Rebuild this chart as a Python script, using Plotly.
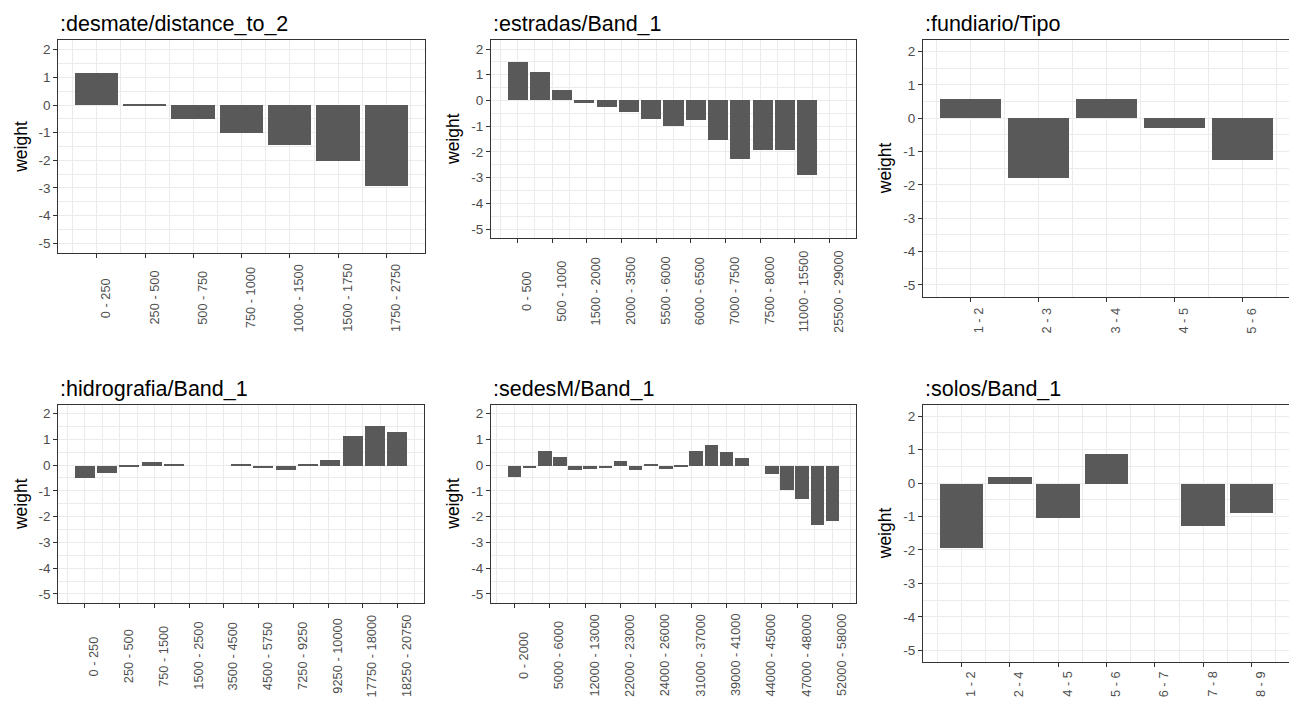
import numpy as np
import plotly.graph_objects as go

# ---------------- data ----------------
desmate_title = ":desmate/distance_to_2"
desmate_labels = ["0 - 250", "250 - 500", "500 - 750", "750 - 1000", "1000 - 1500", "1500 - 1750", "1750 - 2750"]
desmate_values = [1.16, 0.03, -0.51, -1.0, -1.46, -2.01, -2.92]

estradas_title = ":estradas/Band_1"
estradas_labels = ["0 - 500", "500 - 1000", "1500 - 2000", "2000 - 3500", "5500 - 6000", "6000 - 6500",
                   "7000 - 7500", "7500 - 8000", "11000 - 15500", "25500 - 29000"]
estradas_values = [1.48, 1.10, 0.39, -0.09, -0.27, -0.44, -0.73, -1.01, -0.78, -1.53, -2.26, -1.94, -1.94, -2.91, None]

fundiario_title = ":fundiario/Tipo"
fundiario_labels = ["1 - 2", "2 - 3", "3 - 4", "4 - 5", "5 - 6"]
fundiario_values = [0.58, -1.80, 0.58, -0.30, -1.25]

hidrografia_title = ":hidrografia/Band_1"
hidrografia_labels = ["0 - 250", "250 - 500", "750 - 1500", "1500 - 2500", "3500 - 4500", "4500 - 5750",
                      "7250 - 9250", "9250 - 10000", "17750 - 18000", "18250 - 20750"]
hidrografia_values = [-0.49, -0.27, -0.06, 0.13, 0.03, None, None, 0.07, -0.09, -0.17, 0.03, 0.21, 1.13, 1.55, 1.32]

sedesM_title = ":sedesM/Band_1"
sedesM_labels = ["0 - 2000", "5000 - 6000", "12000 - 13000", "22000 - 23000", "24000 - 26000", "31000 - 37000",
                 "39000 - 41000", "44000 - 45000", "47000 - 48000", "52000 - 58000"]
sedesM_values = [-0.44, -0.09, 0.56, 0.35, -0.17, -0.12, -0.09, 0.17, -0.19, 0.06, -0.14, -0.04,
                 0.56, 0.78, 0.52, 0.31, None, -0.34, -0.95, -1.31, -2.29, -2.14]

solos_title = ":solos/Band_1"
solos_labels = ["1 - 2", "2 - 4", "4 - 5", "5 - 6", "6 - 7", "7 - 8", "8 - 9"]
solos_values = [-1.93, 0.21, -1.04, 0.89, None, -1.28, -0.87]

y_title = "weight"
y_ticks = [-5, -4, -3, -2, -1, 0, 1, 2]

# ---------------- layout (pixels) ----------------
W, H = 1289, 701
# panel boxes: left, right, top, bottom, x-label center offset below bottom
boxes = [
    (58.3, 425, 40, 253, 45),
    (491, 856, 40, 238, 53),
    (923, 1290, 40, 296.5, 24),
    (58.3, 424.3, 404.5, 603, 53),
    (491, 856, 404.5, 603, 52),
    (923, 1290, 404.5, 662, 22),
]
panels = [
    (desmate_title, desmate_labels, desmate_values),
    (estradas_title, estradas_labels, estradas_values),
    (fundiario_title, fundiario_labels, fundiario_values),
    (hidrografia_title, hidrografia_labels, hidrografia_values),
    (sedesM_title, sedesM_labels, sedesM_values),
    (solos_title, solos_labels, solos_values),
]

FONT = "Liberation Sans, Arial, sans-serif"
BAR = "#595959"
GRID = "#EBEBEB"
FRAME = "#333333"
TICKTXT = "#4D4D4D"

fig = go.Figure()
annotations = []
layout = dict(
    width=W, height=H, margin=dict(l=0, r=0, t=0, b=0),
    paper_bgcolor="white", plot_bgcolor="white", showlegend=False,
    font=dict(family=FONT, color=TICKTXT),
    bargap=0,
)

for i, ((title, labels, values), (l, r, t, b, loff)) in enumerate(zip(panels, boxes), start=1):
    n = len(values)
    xs = list(range(1, n + 1))
    xa = "x" if i == 1 else f"x{i}"
    ya = "y" if i == 1 else f"y{i}"
    fig.add_trace(go.Bar(x=xs, y=values, width=0.9,
                         marker=dict(color=BAR, line=dict(width=0)),
                         xaxis=xa, yaxis=ya, hoverinfo="x+y"))
    tickpos = np.linspace(1, n, len(labels))
    step = tickpos[1] - tickpos[0]
    minor = list(np.concatenate([[tickpos[0] - step / 2], (tickpos[:-1] + tickpos[1:]) / 2, [tickpos[-1] + step / 2]]))
    lo = 0.55 - 0.05 * (n - 0.1)
    hi = n + 0.45 + 0.05 * (n - 0.1)
    r_eff = min(r, W)
    hi_eff = lo + (hi - lo) * (r_eff - l) / (r - l)
    xkey = "xaxis" if i == 1 else f"xaxis{i}"
    ykey = "yaxis" if i == 1 else f"yaxis{i}"
    layout[xkey] = dict(
        domain=[l / W, r_eff / W], anchor=ya, range=[lo, hi_eff],
        tickmode="array", tickvals=list(tickpos), showticklabels=False,
        ticks="outside", ticklen=4, tickwidth=1, tickcolor=FRAME,
        showgrid=True, gridcolor=GRID, gridwidth=1.4, zeroline=False,
        showline=True, linecolor=FRAME, linewidth=1, mirror=True,
        minor=dict(tickmode="array", tickvals=minor, showgrid=True, gridcolor=GRID, gridwidth=0.8, ticks=""),
    )
    layout[ykey] = dict(
        domain=[1 - b / H, 1 - t / H], anchor=xa, range=[-5.35, 2.35],
        tickmode="array", tickvals=y_ticks, ticktext=[str(v) for v in y_ticks],
        tickfont=dict(size=13.5, color=TICKTXT, family=FONT),
        ticks="outside", ticklen=4, tickwidth=1, tickcolor=FRAME,
        showgrid=True, gridcolor=GRID, gridwidth=1.4, zeroline=False,
        showline=True, linecolor=FRAME, linewidth=1, mirror=True,
        minor=dict(tickmode="array", tickvals=[v + 0.5 for v in y_ticks[:-1]] + [-5.5, 2.5],
                   showgrid=True, gridcolor=GRID, gridwidth=0.8, ticks=""),
    )
    for pos, lab in zip(tickpos, labels):
        annotations.append(dict(
            xref=xa, yref="paper", x=pos, y=1 - (b + loff) / H, text=lab, showarrow=False,
            textangle=-90, xanchor="left", yanchor="middle",
            font=dict(size=12.8, color=TICKTXT, family=FONT), borderpad=0,
        ))
    annotations.append(dict(
        xref="paper", yref="paper", x=(l + 1) / W, y=1 - (t - 3) / H, text=title, showarrow=False,
        xanchor="left", yanchor="bottom", font=dict(size=21.5, color="black", family=FONT), borderpad=0,
    ))
    annotations.append(dict(
        xref="paper", yref="paper", x=(l - 38) / W, y=1 - ((t + b) / 2) / H, text=y_title, showarrow=False,
        textangle=-90, xanchor="center", yanchor="middle",
        font=dict(size=17.5, color="black", family=FONT), borderpad=0,
    ))

layout["annotations"] = annotations
fig.update_layout(**layout)
fig.write_html("out.html", config={"displayModeBar": False},
               post_script="document.body.style.margin='0px';document.body.style.overflow='hidden';")
